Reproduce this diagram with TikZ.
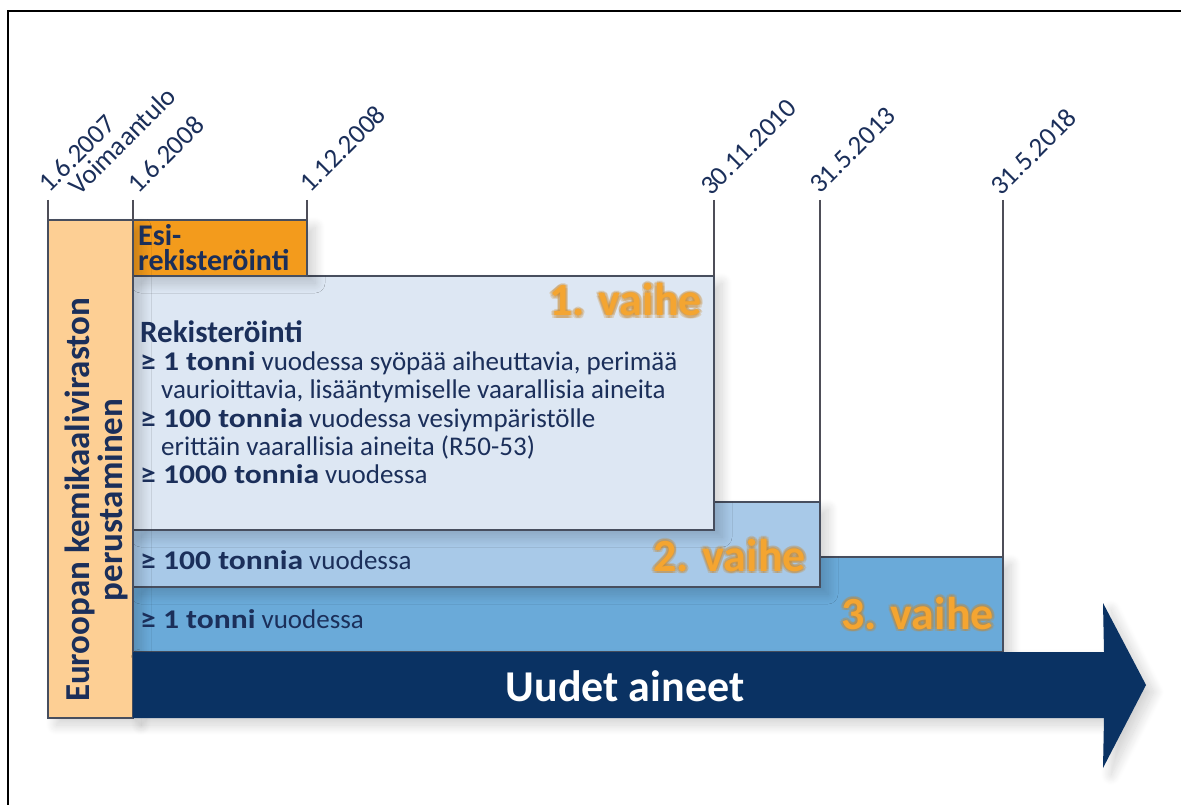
\documentclass[tikz,border=0pt]{standalone}
\usepackage{fontspec}
\setmainfont{Carlito}
\usetikzlibrary{shadows.blur}
\definecolor{navy}{HTML}{1B2F5A}
\definecolor{peach}{HTML}{FDCF94}
\definecolor{esic}{HTML}{F39B1C}
\definecolor{ph1}{HTML}{DDE7F3}
\definecolor{ph2}{HTML}{A8C9E8}
\definecolor{ph3}{HTML}{6AAAD9}
\definecolor{arrowc}{HTML}{0A3263}
\definecolor{bordc}{HTML}{474E5E}
\definecolor{linec}{HTML}{4E4E58}
\definecolor{orangel}{HTML}{F4A531}
\definecolor{glowc}{HTML}{C98526}
\newcommand\B[1]{\scalebox{1.17}[1]{\bfseries #1}}
\begin{document}
\begin{tikzpicture}[x=1pt,y=-1pt,
  box/.style={draw=bordc, line width=1.6pt},
  vline/.style={draw=linec, line width=1.4pt},
  date/.style={rotate=45, anchor=base west, text=navy, font=\fontsize{27}{27}\selectfont, inner sep=0pt},
  body/.style={anchor=base west, text=navy, font=\fontsize{27}{28}\selectfont, inner sep=0pt},
  phase/.style={anchor=base east, text=orangel, font=\fontsize{46}{46}\selectfont\bfseries, inner sep=0pt},
  glow/.style={phase, text=glowc, opacity=0.25},
  sh/.style={blur shadow={shadow xshift=8pt, shadow yshift=-7pt, shadow blur radius=10pt, shadow opacity=18, shadow blur steps=20}}
]
\useasboundingbox (0,0) rectangle (1181,805);
% outer frame (top and left)
\draw[line width=2pt, black] (8,805) -- (8,11) -- (1181,11);

% phase boxes
\path[box, fill=ph3, sh] (133,557) rectangle (1003,652);
\path[box, fill=ph2, sh] (133,502) rectangle (820,587);
\path[box, fill=ph1, sh] (133,276) rectangle (714,530);
\path[box, fill=esic, sh] (133,220) rectangle (307,276);
\path[box, fill=peach, sh] (48,220) rectangle (133,718);
% arrow
\fill[arrowc, sh] (133,652) -- (1104,652) -- (1103,603) -- (1146,685) -- (1103,768) -- (1104,718) -- (133,718) -- cycle;

% vertical date lines
\draw[vline] (48,200) -- (48,220);
\draw[vline] (133,200) -- (133,220);
\draw[vline] (307,200) -- (307,220);
\draw[vline] (714,200) -- (714,276);
\draw[vline] (820,200) -- (820,502);
\draw[vline] (1003,200) -- (1003,557);

% date labels
\node[date] (d1) at (49,194) {1.6.2007};
\node[date] (d1b) at (79,197) {Voimaantulo};
\node[date] (d2) at (138,195) {1.6.2008};
\node[date] (d3) at (310,194) {1.12.2008};
\node[date] (d4) at (711,197) {30.11.2010};
\node[date] (d5) at (820,195) {31.5.2013};
\node[date] (d6) at (1001,197) {31.5.2018};

% esi-rekisterointi
\node[body, font=\fontsize{30}{30}\selectfont\bfseries] (e1) at (138,246) {Esi-};
\node[body, font=\fontsize{30}{30}\selectfont\bfseries] (e2) at (138,270) {rekisteröinti};

% phase 1 text
\node[body, font=\fontsize{31}{31}\selectfont\bfseries] (t0) at (140,342) {Rekisteröinti};
\node[body] (t1) at (140,370) {\B{≥ 1 tonni} vuodessa syöpää aiheuttavia, perimää};
\node[body] (t2) at (161,398) {vaurioittavia, lisääntymiselle vaarallisia aineita};
\node[body] (t3) at (140,427) {\B{≥ 100 tonnia} vuodessa vesiympäristölle};
\node[body] (t4) at (161,455) {erittäin vaarallisia aineita (R50-53)};
\node[body] (t5) at (140,483) {\B{≥ 1000 tonnia} vuodessa};
% phase 2 / 3 text
\node[body] (t6) at (140,569) {\B{≥ 100 tonnia} vuodessa};
\node[body] (t7) at (140,628) {\B{≥ 1 tonni} vuodessa};

% phase labels with glow
\foreach \dx/\dy in {-2.5/0,2.5/0,0/-2.5,0/2.5,2/2,-2/-2,2/-2,-2/2}{
  \node[glow, xshift=\dx pt, yshift=\dy pt] at (702,316) {1. vaihe};
  \node[glow, xshift=\dx pt, yshift=\dy pt] at (806,571) {2. vaihe};
  \node[glow, xshift=\dx pt, yshift=\dy pt] at (994,629) {3. vaihe};
}
\node[phase] (p1) at (702,316) {1. vaihe};
\node[phase] (p2) at (806,571) {2. vaihe};
\node[phase] (p3) at (994,629) {3. vaihe};

% column text
\node[rotate=90, align=center, text=navy, inner sep=0pt,
      font=\fontsize{35}{33}\selectfont\bfseries] (col) at (96,500)
      {Euroopan kemikaaliviraston\\perustaminen};

% arrow text
\node[text=white, inner sep=0pt, font=\fontsize{44}{44}\selectfont\bfseries] (ua) at (625,686) {Uudet aineet};
\end{tikzpicture}
\end{document}
